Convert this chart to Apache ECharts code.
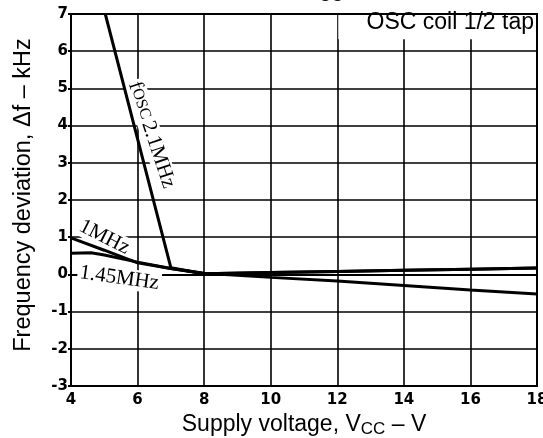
<!DOCTYPE html>
<html><head><meta charset="utf-8">
<script src="https://cdn.jsdelivr.net/npm/echarts@6/dist/echarts.min.js"></script>
<style>html,body{margin:0;padding:0;background:#fff}#c{width:543px;height:438px}</style>
</head><body><div id="c"></div>
<script>
// Data
const foscX = [5.03, 7.0, 8, 10, 12, 14, 16, 18];
const foscY = [7.0, 0.18, 0.02, 0.05, 0.08, 0.11, 0.14, 0.17];
const mhz1X = [4, 5, 6, 7, 8, 10, 12, 14, 16, 18];
const mhz1Y = [0.98, 0.65, 0.31, 0.16, 0.02, 0.05, 0.08, 0.11, 0.14, 0.17];
const mhz145X = [4, 4.6, 5, 6, 7, 8, 10, 12, 14, 16, 18];
const mhz145Y = [0.57, 0.58, 0.52, 0.33, 0.16, 0.03, -0.08, -0.18, -0.30, -0.42, -0.53];
const xTicks = [4, 6, 8, 10, 12, 14, 16, 18];
const yTicks = [-3, -2, -1, 0, 1, 2, 3, 4, 5, 6, 7];

const zip = (xs, ys) => xs.map((x, i) => [x, ys[i]]);
const chart = echarts.init(document.getElementById('c'), null, {renderer: 'canvas'});
const lineS = {color: '#000', width: 3};
const tickFont = {color: '#000', fontFamily: 'DejaVu Sans', fontWeight: 'bold', fontSize: 15};
chart.setOption({
  animation: false,
  backgroundColor: '#fff',
  grid: {left: 71, right: 6, top: 14, bottom: 52, show: true, borderColor: '#000', borderWidth: 2, containLabel: false, outerBoundsMode: 'none'},
  xAxis: {
    type: 'value', min: xTicks[0], max: xTicks[xTicks.length - 1], interval: 2,
    axisLine: {show: true, lineStyle: {color: '#000', width: 2}},
    axisTick: {show: false},
    splitLine: {show: true, lineStyle: {color: '#000', width: 1.6}},
    axisLabel: Object.assign({margin: 7}, tickFont),
    name: '{a|Supply voltage, V}{s|CC}{a| – V}',
    nameLocation: 'middle', nameGap: 15,
    nameTextStyle: {rich: {
      a: {fontFamily: 'Liberation Sans', fontSize: 23, color: '#000'},
      s: {fontFamily: 'Liberation Sans', fontSize: 17, color: '#000', verticalAlign: 'bottom', padding: [9, 0, 0, 0]}
    }}
  },
  yAxis: {
    type: 'value', min: yTicks[0], max: yTicks[yTicks.length - 1], interval: 1,
    axisLine: {show: true, lineStyle: {color: '#000', width: 2}},
    axisTick: {show: true, length: 3, lineStyle: {color: '#000', width: 2}},
    splitLine: {show: true, lineStyle: {color: '#000', width: 1.6}},
    axisLabel: Object.assign({margin: 3}, tickFont),
    name: 'Frequency deviation, Δf – kHz',
    nameLocation: 'middle', nameGap: 35,
    nameTextStyle: {fontFamily: 'Liberation Sans', fontSize: 23.5, color: '#000', padding: [0, 0, 0, 10]}
  },
  series: [
    {name: 'fosc 2.1MHz', type: 'line', data: zip(foscX, foscY), symbol: 'none', lineStyle: lineS, z: 3},
    {name: '1MHz', type: 'line', data: zip(mhz1X, mhz1Y), symbol: 'none', lineStyle: lineS, z: 3},
    {name: '1.45MHz', type: 'line', data: zip(mhz145X, mhz145Y), symbol: 'none', lineStyle: lineS, z: 3}
  ]
});

function px(x, y) { return chart.convertToPixel({gridIndex: 0}, [x, y]); }
const serif = 'Liberation Serif';
const p1 = px(6.42, 3.75), p2 = px(5.0, 1.0), p3 = px(5.45, -0.1);
const tl = px(12, 7), br = px(18, 6.35);
chart.setOption({
  graphic: [
    {type: 'rect', z: 1, shape: {x: tl[0] + 1, y: tl[1] + 1, width: br[0] - tl[0] - 2, height: br[1] - tl[1]}, style: {fill: '#fff'}},
    {type: 'text', z: 4, x: br[0] - 3, y: tl[1] + 20, style: {text: 'OSC coil 1/2 tap', fontFamily: 'Liberation Sans', fontSize: 23, fill: '#000', align: 'right', verticalAlign: 'bottom'}},
    {type: 'text', z: 1, x: p1[0], y: p1[1], rotation: -71.5 * Math.PI / 180,
      style: {text: '{f|f}{o|OSC} {f|2.1MHz}', rich: {f: {fontFamily: serif, fontSize: 21, fill: '#000'}, o: {fontFamily: serif, fontSize: 16, fill: '#000'}},
        align: 'center', verticalAlign: 'middle', backgroundColor: '#fff', padding: [0, 2]}},
    {type: 'text', z: 1, x: p2[0], y: p2[1], rotation: -27 * Math.PI / 180,
      style: {text: '1MHz', fontFamily: serif, fontSize: 21, fill: '#000', align: 'center', verticalAlign: 'middle', backgroundColor: '#fff', padding: [0, 2]}},
    {type: 'text', z: 1, x: p3[0], y: p3[1], rotation: -8 * Math.PI / 180,
      style: {text: '1.45MHz', fontFamily: serif, fontSize: 21, fill: '#000', align: 'center', verticalAlign: 'middle', backgroundColor: '#fff', padding: [0, 2]}},
    {type: 'text', z: 4, x: 331, y: 5, style: {text: 'CC', fontFamily: 'Liberation Sans', fontSize: 17, fill: '#000', align: 'center', verticalAlign: 'bottom'}}
  ]
});
</script></body></html>
